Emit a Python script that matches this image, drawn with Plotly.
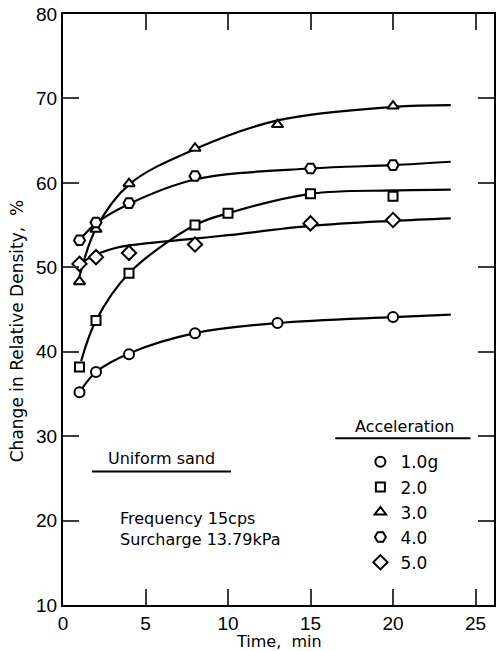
import plotly.graph_objects as go

# Measured points: time (min) vs change in relative density (%)
t_10 = [1, 2, 4, 8, 13, 20]
d_10 = [35.2, 37.6, 39.7, 42.2, 43.4, 44.1]

t_20 = [1, 2, 4, 8, 10, 15, 20]
d_20 = [38.2, 43.7, 49.3, 55.0, 56.4, 58.7, 58.4]

t_30 = [1, 2, 4, 8, 13, 20]
d_30 = [48.3, 54.5, 59.9, 64.1, 66.9, 69.1]

t_40 = [1, 2, 4, 8, 15, 20]
d_40 = [53.2, 55.3, 57.6, 60.8, 61.7, 62.1]

t_50 = [1, 2, 4, 8, 15, 20]
d_50 = [50.4, 51.2, 51.7, 52.7, 55.2, 55.6]

# Smoothed trend curves drawn through the data
ct_10 = [1, 2, 4, 8, 13, 20, 23.5]
cd_10 = [35.2, 37.6, 39.8, 42.2, 43.4, 44.1, 44.4]

ct_20 = [1.1, 2, 4, 8, 10, 15, 20, 23.5]
cd_20 = [38.9, 43.7, 49.3, 55.0, 56.4, 58.7, 59.1, 59.2]

ct_30 = [1, 2, 4, 8, 13, 20, 23.5]
cd_30 = [48.9, 54.6, 59.8, 64.0, 67.4, 69.0, 69.2]

ct_40 = [1, 2, 4, 8, 15, 20, 23.5]
cd_40 = [53.2, 55.2, 57.5, 60.4, 61.7, 62.1, 62.5]

ct_50 = [1, 2, 3, 4, 8, 10, 15, 20, 23.5]
cd_50 = [50.4, 51.5, 52.2, 52.6, 53.4, 53.8, 54.9, 55.5, 55.8]

labels = ["1.0g", "2.0", "3.0", "4.0", "5.0"]
symbols = ["circle", "square", "triangle-up", "hexagon2", "diamond"]
sizes = [10, 9, 10, 11, 11]

x_ticks = [0, 5, 10, 15, 20, 25]
y_ticks = [10, 20, 30, 40, 50, 60, 70, 80]
x_range = [0, 26.12]
y_range = [10, 80]

points = [(t_10, d_10), (t_20, d_20), (t_30, d_30), (t_40, d_40), (t_50, d_50)]
curves = [(ct_10, cd_10), (ct_20, cd_20), (ct_30, cd_30), (ct_40, cd_40), (ct_50, cd_50)]

TXT = "DejaVu Sans"
NUM = "Liberation Sans"
TICK_COLOR = "#3c3c3c"

fig = go.Figure()

for cx, cy in curves:
    fig.add_trace(go.Scatter(
        x=cx, y=cy, mode="lines",
        line=dict(color="black", width=2.2, shape="spline", smoothing=1.0),
        showlegend=False, hoverinfo="skip",
    ))

for (px, py), name, sym, sz in zip(points, labels, symbols, sizes):
    fig.add_trace(go.Scatter(
        x=px, y=py, mode="markers", name=name,
        marker=dict(symbol=sym, size=sz, color="white",
                    line=dict(color="black", width=2)),
    ))

fig.update_layout(
    xaxis=dict(range=x_range, tickmode="array", tickvals=x_ticks, mirror="allticks",
               showgrid=False, zeroline=False, showline=True, linecolor="black", linewidth=2,
               ticks="inside", ticklen=16, tickwidth=2, tickcolor=TICK_COLOR,
               tickfont=dict(family=NUM, size=19, color="black")),
    yaxis=dict(range=y_range, tickmode="array", tickvals=y_ticks, mirror="allticks",
               showgrid=False, zeroline=False, showline=True, linecolor="black", linewidth=2,
               ticks="inside", ticklen=16, tickwidth=2, tickcolor=TICK_COLOR,
               tickfont=dict(family=NUM, size=19, color="black")),
)

annotations = [
    dict(text="Uniform sand", x=5.94, y=27.4, xanchor="center", yanchor="middle"),
    dict(text="Frequency 15cps", x=3.33, y=20.3, xanchor="left", yanchor="middle"),
    dict(text="Surcharge 13.79kPa", x=3.33, y=17.7, xanchor="left", yanchor="middle"),
    dict(text="Acceleration", x=20.67, y=31.2, xanchor="center", yanchor="middle"),
]
for a in annotations:
    a.update(xref="x", yref="y", showarrow=False,
             font=dict(family=TXT, size=16, color="black"))

# axis titles
annotations.append(dict(
    text="Time,&nbsp; min", xref="paper", yref="paper", x=0.5, y=-0.062,
    xanchor="center", yanchor="middle", showarrow=False,
    font=dict(family=TXT, size=16, color="black"),
))
annotations.append(dict(
    text="Change in Relative Density,&nbsp; %", xref="paper", yref="paper",
    x=-0.107, y=0.463, xanchor="center", yanchor="middle", textangle=-90,
    showarrow=False, font=dict(family=TXT, size=17, color="black"),
))

shapes = [
    dict(type="line", xref="x", yref="y", x0=1.76, x1=10.18, y0=25.8, y1=25.8,
         line=dict(color="black", width=2)),
    dict(type="line", xref="x", yref="y", x0=16.5, x1=24.7, y0=29.75, y1=29.75,
         line=dict(color="black", width=2)),
]

fig.update_layout(
    template="none",
    width=496, height=651,
    margin=dict(l=63, r=2, t=14, b=46),
    annotations=annotations, shapes=shapes,
    legend=dict(x=0.69, y=0.272, xanchor="left", yanchor="top",
                bgcolor="rgba(0,0,0,0)", font=dict(family=TXT, size=17, color="black"),
                itemsizing="trace", tracegroupgap=0, itemwidth=30),
    showlegend=True,
)

fig.write_html("out.html")
